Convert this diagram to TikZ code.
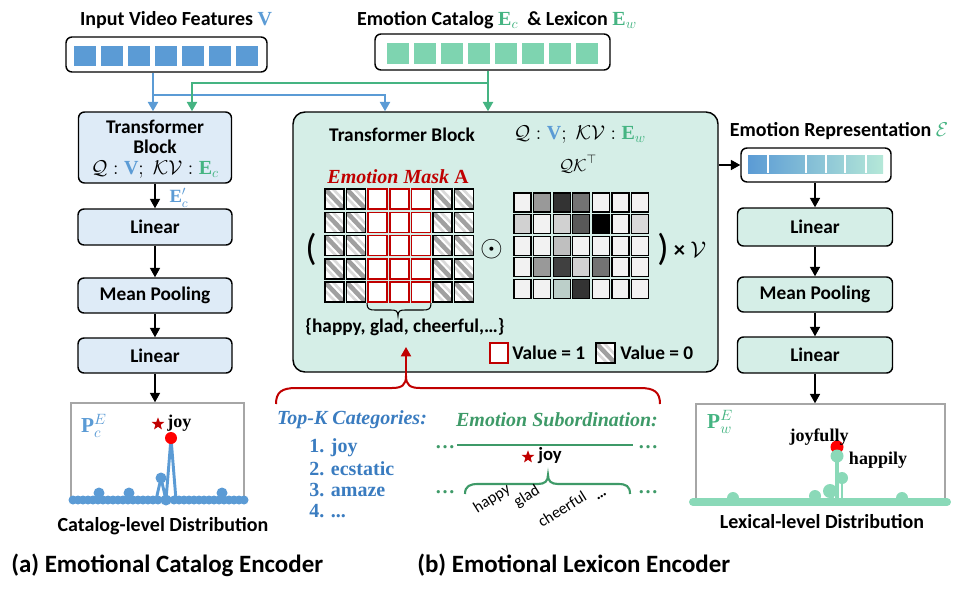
\documentclass[tikz,border=0pt]{standalone}
\usepackage{fix-cm}
\usepackage{fontspec}
\setmainfont{Liberation Serif}
\setsansfont{Carlito}
\usetikzlibrary{arrows.meta,calc,shapes.geometric}
\definecolor{vblue}{HTML}{5B9BD5}
\definecolor{egreen}{HTML}{45B482}
\definecolor{mint}{HTML}{7ED4B0}
\definecolor{lblue}{HTML}{DEEBF7}
\definecolor{lmint}{HTML}{D5EEE7}
\definecolor{dred}{HTML}{C00000}
\definecolor{tkblue}{HTML}{3A7CC0}
\definecolor{sgreen}{HTML}{3E9A68}
\definecolor{lgreen}{HTML}{8AD9B8}
\definecolor{chgray}{HTML}{A6A6A6}
\definecolor{hgray}{HTML}{A0A0A0}
\definecolor{gradend}{HTML}{B5E8D8}
\definecolor{qkg}{HTML}{BCCFC9}
\newcommand{\hcell}[2]{%
  \fill[white] (#1,#2) rectangle ++(19,20);
  \begin{scope}
    \clip (#1,#2) rectangle ++(19,20);
    \draw[hgray, line width=3.4pt] (#1,#2) -- ++(19,20);
    \draw[hgray!40, line width=2pt] (#1-8,#2) -- ++(19,20);
    \draw[hgray!40, line width=2pt] (#1+8,#2) -- ++(19,20);
  \end{scope}
  \draw[black, line width=1.1pt] (#1,#2) rectangle ++(19,20);}
\tikzset{
  bx/.style={draw=black, line width=1.1pt, rounded corners=4.5pt, inner sep=0pt, align=center},
  lb/.style={bx, fill=lblue},
  lm/.style={bx, fill=lmint},
  sz/.style 2 args={minimum width=#1*0.75pt, minimum height=#2*0.75pt},
  ft/.style={font=\sffamily\bfseries\fontsize{14.5}{17}\selectfont, inner sep=0pt},
  ttl/.style={font=\sffamily\bfseries\fontsize{15}{18}\selectfont, inner sep=0pt},
  captxt/.style={font=\sffamily\bfseries\fontsize{18.7}{21}\selectfont, anchor=west, inner sep=0pt},
  sr/.style={font=\rmfamily\bfseries\fontsize{15}{17}\selectfont, inner sep=0pt},
  sri/.style={font=\rmfamily\bfseries\itshape\fontsize{15}{17}\selectfont, inner sep=0pt},
  mth/.style={font=\fontsize{15}{17}\selectfont, inner sep=0pt},
  rw/.style={font=\sffamily\fontsize{12}{13}\selectfont, rotate=32, inner sep=0pt},
  tip/.style={-{Triangle[length=7pt,width=7.5pt]}},
  karr/.style={draw=black, line width=1.1pt, tip},
  barr/.style={draw=vblue, line width=1.6pt, tip},
  garr/.style={draw=egreen, line width=1.6pt, tip},
  starn/.style={star, star points=5, star point ratio=2.4, fill=dred, inner sep=0pt, minimum size=10pt},
}
\begin{document}
\begin{tikzpicture}[x=0.75pt,y=-0.75pt]
\useasboundingbox (0,0) rectangle (963,589);

% ---------- top inputs ----------
\node[ttl] (t1) at (176,20) {Input Video Features {\color{vblue}$\mathbf{V}$}};
\node[bx, sz={201}{35}] (invid) at (166.5,54.5) {};
\foreach \i in {0,...,6} \fill[vblue] (74+27*\i,46) rectangle ++(22,20);

\node[ttl] (t2) at (497,20) {Emotion Catalog {\color{egreen}$\mathbf{E}_c$}\ \ \& Lexicon {\color{egreen}$\mathbf{E}_w$}};
\node[bx, sz={235}{36}] (emocat) at (492.5,52) {};
\foreach \i in {0,...,7} \fill[mint] (387+27*\i,43) rectangle ++(22,21);

% ---------- left column ----------
\node[lb, sz={153}{71}] (tfL) at (155,147.5) {};
\node[ft] (tfLa) at (155,127) {Transformer};
\node[ft] (tfLb) at (155,147) {Block};
\node[mth] (tfLc) at (155,170) {$\mathcal{Q}:{\color{vblue}\mathbf{V}};\;\mathcal{K}\mathcal{V}:{\color{egreen}\mathbf{E}_c}$};

\node[lb, ft, sz={154}{36}] (linL1) at (155,227) {Linear};
\node[lb, ft, sz={154}{35}] (mpL) at (155,295.5) {Mean Pooling};
\node[lb, ft, sz={154}{35}] (linL2) at (155,355.5) {Linear};
\node[font=\fontsize{14}{16}\selectfont, inner sep=0pt] (ecp) at (179,198) {\color{vblue}$\mathbf{E}'_c$};

\draw[karr] (tfL.south) -- (linL1.north);
\draw[karr] (linL1.south) -- (mpL.north);
\draw[karr] (mpL.south) -- (linL2.north);

% left chart
\node[draw=chgray, line width=1.1pt, sz={173}{95}, inner sep=0pt] (chartL) at (157.5,450.5) {};
\draw[karr] (linL2.south) -- (linL2.south |- chartL.north);
\foreach \x in {73,78,...,158} \fill[vblue] (\x,500) circle (4.5);
\foreach \x in {174,179,...,244} \fill[vblue] (\x,500) circle (4.5);
\draw[vblue, line width=2.2pt, line join=round] (156,500) -- (161,478) -- (166,500) -- (171,438) -- (176,500);
\foreach \p in {(99,493),(129,493),(161,478),(166,500),(222,493)} \fill[vblue] \p circle (5.5);
\fill[red] (171,438) circle (6);
\node[starn] (stL) at (158,424) {};
\node[font=\rmfamily\bfseries\fontsize{13.5}{15}\selectfont, anchor=west, inner sep=0pt] (joyL) at (167,423) {joy};
\node[font=\fontsize{16}{18}\selectfont, inner sep=0pt] (pcL) at (94,426) {\color{vblue}$\mathbf{P}_c^{E}$};
\node[ttl] (capL) at (163,526) {Catalog-level Distribution};

% ---------- input arrows ----------
\coordinate (tfLin1) at ($(tfL.north)+(-2,0)$);
\coordinate (tfLin2) at ($(tfL.north)+(37,0)$);
\node[lm, sz={425}{260}, rounded corners=9pt] (tfB) at (505.5,242) {};
\coordinate (tfBin1) at ($(tfB.north)+(-120.5,0)$);
\coordinate (tfBin2) at ($(tfB.north)+(-17.5,0)$);
\draw[barr] (tfLin1 |- invid.south) -- (tfLin1);
\draw[barr] (tfLin1 |- 0,95) -| (tfBin1);
\draw[garr] (tfBin2 |- emocat.south) -- (tfBin2);
\draw[garr] (tfBin2 |- 0,83) -| (tfLin2);

% ---------- big transformer block ----------
\node[ft] (tfBa) at (402,135) {Transformer Block};
\node[mth] (tfBb) at (580,135) {$\mathcal{Q}:{\color{vblue}\mathbf{V}};\;\mathcal{K}\mathcal{V}:{\color{egreen}\mathbf{E}_w}$};
\node[sri, text=dred] (maskt) at (398,177) {Emotion Mask \textup{A}};

\foreach \i in {0,...,6} {
  \foreach \j in {0,...,4} {
    \ifnum\i>1 \ifnum\i<5
      \draw[dred, line width=1.1pt, fill=white] (325+21.6*\i,189+23.3*\j) rectangle ++(19,20);
    \else \hcell{325+21.6*\i}{189+23.3*\j} \fi
    \else \hcell{325+21.6*\i}{189+23.3*\j} \fi
  }
}
\draw[black, line width=0.8pt] (367,303) .. controls (367,309) and (369,310) .. (375,310) -- (391,310) .. controls (396,310) and (398,311) .. (398,316) .. controls (398,311) and (400,310) .. (405,310) -- (423,310) .. controls (429,310) and (431,309) .. (431,303);
\node[ft] (hgc) at (405,327) {\{happy, glad, cheerful,…\}};

\node[font=\sffamily\fontsize{28}{30}\selectfont, inner sep=0pt] (lpar) at (311,249) {(};
\node[font=\fontsize{22}{24}\selectfont, inner sep=0pt] (odot) at (492,249) {$\odot$};
\node[font=\fontsize{13}{15}\selectfont, inner sep=0pt] (qkl) at (578,164) {$\mathcal{QK}^{\top}$};
\foreach \vals [count=\r from 0] in {{5,40,80,55,5,5,5},{18,5,18,65,100,5,15},{5,5,25,5,5,5,5},{5,40,75,18,55,5,5},{5,5,22,80,5,5,5}} {
  \foreach \v [count=\c from 0] in \vals {
    \fill[black!\v] (514+19.6*\c,193+21.6*\r) rectangle ++(17,19);
    \draw[black, line width=1pt] (514+19.6*\c,193+21.6*\r) rectangle ++(17,19);
  }
}
\fill[qkg] (514+19.6*2,193+21.6*4) rectangle ++(17,19);
\draw[black, line width=1pt] (514+19.6*2,193+21.6*4) rectangle ++(17,19);
\node[font=\sffamily\fontsize{28}{30}\selectfont, inner sep=0pt] (rpar) at (663,249) {)};
\node[font=\sffamily\bfseries\fontsize{17}{19}\selectfont, inner sep=0pt] (xv) at (690,250) {× $\mathcal{V}$};

% legend
\draw[dred, line width=1.2pt, fill=white] (490,343) rectangle (508,363);
\node[ft, anchor=west] (v1) at (512,353) {Value = 1};
\hcell{596}{343}
\node[ft, anchor=west] (v0) at (620,353) {Value = 0};

% ---------- red brace and arrow ----------
\coordinate (rbtip) at (406,376);
\coordinate (rbtop) at (406,347);
\draw[dred, line width=1.5pt] (276,404) .. controls (276,392) and (282,388) .. (296,388) -- (392,388) .. controls (402,388) and (406,385) .. (rbtip) .. controls (406,385) and (410,388) .. (420,388) -- (640,388) .. controls (654,388) and (660,392) .. (660,404);
\draw[dred, line width=1.5pt, tip] (rbtip) -- (rbtop);

% ---------- Top-K ----------
\node[sri, text=tkblue] (topk) at (352,420) {Top-\textit{K} Categories:};
\node[sr, text=tkblue, anchor=west] (k1) at (309,448) {1. joy};
\node[sr, text=tkblue, anchor=west] (k2) at (309,469) {2. ecstatic};
\node[sr, text=tkblue, anchor=west] (k3) at (309,490) {3. amaze};
\node[sr, text=tkblue, anchor=west] (k4) at (309,511) {4. ...};

% ---------- Subordination ----------
\node[sri, text=sgreen] (subt) at (557,420) {Emotion Subordination:};
\draw[sgreen, line width=1.6pt] (457,445) -- (633,445);
\node[sr, text=sgreen] (d1) at (445,447) {…};
\node[sr, text=sgreen] (d2) at (648,447) {…};
\node[sr, text=sgreen] (d3) at (445,492) {…};
\node[sr, text=sgreen] (d4) at (648,492) {…};
\node[starn] (stS) at (528,457) {};
\node[font=\sffamily\bfseries\fontsize{14}{16}\selectfont, anchor=west, inner sep=0pt] (joyS) at (538,456) {joy};
\draw[sgreen, line width=1.6pt] (465,494) .. controls (465,486) and (470,484) .. (478,484) -- (538,484) .. controls (545,484) and (548,481) .. (548,475) .. controls (548,481) and (551,484) .. (558,484) -- (618,484) .. controls (626,484) and (630,486) .. (630,494);
\node[rw] (w1) at (492,499) {happy};
\node[rw] (w2) at (527,497) {glad};
\node[rw] (w3) at (562,509) {cheerful};
\node[rw, font=\sffamily\bfseries\fontsize{12}{13}\selectfont] (w4) at (602,497) {…};

% ---------- right column ----------
\node[ttl] (reptl) at (839,131) {Emotion Representation {\color{egreen}$\mathcal{E}$}};
\node[bx, fill=white, sz={150}{34}] (rep) at (816,165) {};
\shade[left color=vblue, right color=gradend] (748,155) rectangle (883,173);
\foreach \x in {768,806,826,845,866} \draw[white, line width=1pt] (\x,155) -- (\x,173);
\draw[karr] (tfB.east |- rep.west) -- (rep.west);

\node[lm, ft, sz={155}{38}] (linR1) at (815,227) {Linear};
\node[lm, ft, sz={155}{35}] (mpR) at (815,294.5) {Mean Pooling};
\node[lm, ft, sz={155}{36}] (linR2) at (815,355) {Linear};
\draw[karr] (rep.south -| linR1.north) -- (linR1.north);
\draw[karr] (linR1.south) -- (mpR.north);
\draw[karr] (mpR.south) -- (linR2.north);

% right chart
\node[draw=chgray, line width=1.1pt, sz={249}{96}, inner sep=0pt] (chartR) at (820.5,452) {};
\draw[karr] (linR2.south) -- (linR2.south |- chartR.north);
\draw[lgreen, line width=6pt, line cap=round] (693,502) -- (947,502);
\foreach \p in {(733,498),(902,498),(815,496)} \fill[lgreen] \p circle (6);
\draw[lgreen, line width=2.5pt] (837,455) -- (837,502);
\draw[lgreen, line width=2pt] (842,478) -- (842,502);
\draw[lgreen, line width=2pt] (830,491) -- (834,502);
\fill[lgreen] (830,491) circle (7);
\fill[lgreen] (842,478) circle (6);
\fill[red] (837,447) circle (6.5);
\fill[lgreen] (837,456) circle (6.5);
\node[font=\rmfamily\bfseries\fontsize{13.5}{15}\selectfont, inner sep=0pt] (jf) at (819,437) {joyfully};
\node[font=\rmfamily\bfseries\fontsize{13.5}{15}\selectfont, inner sep=0pt] (hp) at (878,460) {happily};
\node[font=\fontsize{16}{18}\selectfont, inner sep=0pt] (pwR) at (720,422) {\color{egreen}$\mathbf{P}_w^{E}$};
\node[ttl] (capR) at (822,522) {Lexical-level Distribution};

% ---------- captions ----------
\node[captxt] (capa) at (11,565) {(a) Emotional Catalog Encoder};
\node[captxt] (capb) at (417,565) {(b) Emotional Lexicon Encoder};
\end{tikzpicture}
\end{document}
